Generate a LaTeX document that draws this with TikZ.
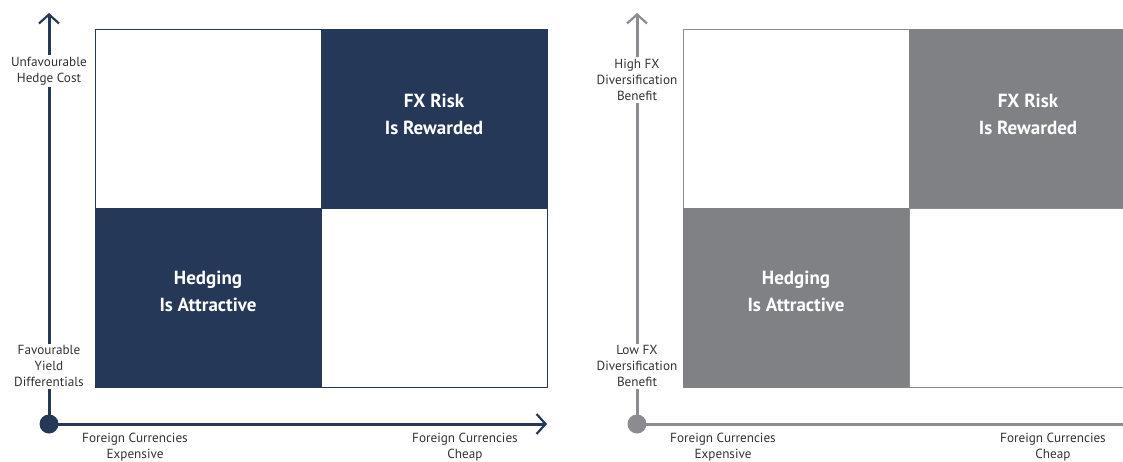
\documentclass[tikz,border=0pt]{standalone}
\usepackage{fontspec}
\setmainfont{PT Sans}
\usetikzlibrary{arrows.meta}
\definecolor{navy}{HTML}{253858}
\definecolor{gfill}{HTML}{808185}
\definecolor{gaxis}{HTML}{8C8C90}
\tikzset{
  cell/.style={draw=#1, line width=0.8pt, minimum width=226pt, minimum height=179pt, inner sep=0pt, anchor=north west},
  axis/.style={draw=#1, line width=3pt, -{Straight Barb[length=9pt,width=20pt,line width=2.2pt]}},
  axlbl/.style={font=\fontsize{13.2}{16.3}\selectfont, align=center, fill=white, inner sep=1.5pt, text=black!80},
  big/.style={font=\fontsize{19}{27}\selectfont\bfseries, align=center, text=white},
}
\begin{document}
\begin{tikzpicture}[x=1pt,y=-1pt]
\useasboundingbox (0,0) rectangle (1123,461);
% ---------- left panel ----------
\node[cell=navy] (ltl) at (95,29) {};
\node[cell=navy, fill=navy] (ltr) at (321,29) {};
\node[cell=navy, fill=navy] (lbl) at (95,208) {};
\node[cell=navy] (lbr) at (321,208) {};
\node[big] (lrew) at (434,114) {FX Risk\\Is Rewarded};
\node[big] (latt) at (208,291) {Hedging\\Is Attractive};
\coordinate (lo) at (49,424);
\coordinate (ly) at (49,13);
\coordinate (lx) at (547,424);
\draw[axis=navy] (lo) -- (ly);
\draw[axis=navy] (lo) -- (lx);
\fill[navy] (lo) circle (9.5);
\node[axlbl] (lyt) at (49,71) {Unfavourable\\Hedge Cost};
\node[axlbl] (lyb) at (49,366) {Favourable\\Yield\\Differentials};
\node[axlbl] (lxl) at (135,447) {Foreign Currencies\\Expensive};
\node[axlbl] (lxr) at (465,447) {Foreign Currencies\\Cheap};
% ---------- right panel ----------
\node[cell=gaxis] (rtl) at (683,29) {};
\node[cell=gfill, fill=gfill, minimum width=240pt] (rtr) at (909,29) {};
\node[cell=gfill, fill=gfill] (rbl) at (683,208) {};
\node[cell=gaxis, minimum width=240pt] (rbr) at (909,208) {};
\node[big] (rrew) at (1028,114) {FX Risk\\Is Rewarded};
\node[big] (ratt) at (796,291) {Hedging\\Is Attractive};
\coordinate (ro) at (637,424);
\coordinate (ry) at (637,13);
\coordinate (rx) at (1135,424);
\draw[axis=gaxis] (ro) -- (ry);
\draw[axis=gaxis] (ro) -- (rx);
\fill[gaxis] (ro) circle (9.5);
\node[axlbl] (ryt) at (637,80) {High FX\\Diversification\\Benefit};
\node[axlbl] (ryb) at (637,366) {Low FX\\Diversification\\Benefit};
\node[axlbl] (rxl) at (723,447) {Foreign Currencies\\Expensive};
\node[axlbl] (rxr) at (1053,447) {Foreign Currencies\\Cheap};
\end{tikzpicture}
\end{document}
